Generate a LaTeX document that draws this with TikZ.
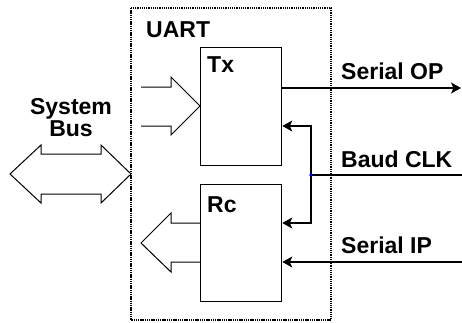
\documentclass[tikz,border=0pt]{standalone}
\usepackage{fontspec}
\setmainfont{Liberation Sans}
\usepackage{tikz}
\usetikzlibrary{arrows.meta,calc,positioning}

\tikzset{
  blk/.style={draw=black, line width=1.3pt, minimum width=81pt, anchor=north west, inner sep=0pt},
  lbl/.style={inner sep=0pt, font=\fontsize{23}{24}\selectfont\bfseries},
  sig/.style={line width=1.3pt, -{Stealth[length=10pt,width=11pt,inset=2.5pt]}},
  fat/.style={draw=black, line width=1pt, line join=miter},
}

\begin{document}
\begin{tikzpicture}[x=1pt,y=-1pt]
\useasboundingbox (0,0) rectangle (462,322);
\draw[line width=1.3pt, dash pattern=on 1.3pt off 0.9pt] (131,8) rectangle (331,320);
\node[lbl, anchor=base west] (uart) at (146,37) {UART};
\node[blk, minimum height=118pt] (tx) at (200,47) {};
\node[blk, minimum height=117pt] (rc) at (200,184) {};
\node[lbl, anchor=base west] (txl) at (207,72) {Tx};
\node[lbl, anchor=base west] (rcl) at (207,212) {Rc};
\node[lbl, anchor=base] (sys) at (71,114) {System};
\node[lbl, anchor=base] (bus) at (71,136) {Bus};
\node[lbl, anchor=base west] (opl) at (341,79) {Serial OP};
\node[lbl, anchor=base west] (clkl) at (341,167) {Baud CLK};
\node[lbl, anchor=base west] (ipl) at (341,253) {Serial IP};
\coordinate (op) at (461,88);
\coordinate (baud) at (462,175);
\coordinate (clk) at (311,175);
\coordinate (ip) at (462,262);
\draw[sig] (tx.east |- op) -- (op);
\draw[line width=1.3pt] (baud) -- (clk);
\draw[sig] (clk) |- (tx.east |- 0,126);
\draw[sig] (clk) |- (rc.east |- 0,223);
\draw[sig] (ip) -- (rc.east |- ip);
\fill[blue] (clk) circle (1.8pt);
\draw[fat] (141,87) -- (171,87) -- (171,77) -- (tx.west |- 0,106) -- (171,135) -- (171,126) -- (141,126);
\draw[fat] (rc.west |- 0,223) -- (171,223) -- (171,213) -- (141,243) -- (171,272) -- (171,262) -- (rc.west |- 0,262);
\draw[fat] (10,174) -- (41,145) -- (41,154) -- (101,154) -- (101,145) -- (131,174)
  -- (101,203) -- (101,194) -- (41,194) -- (41,203) -- cycle;
\end{tikzpicture}
\end{document}
